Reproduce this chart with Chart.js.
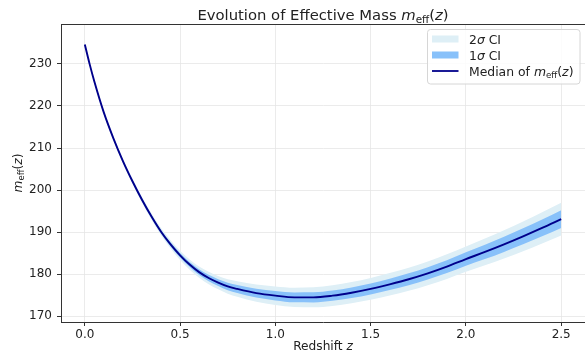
<!DOCTYPE html>
<html>
<head>
<meta charset="utf-8">
<script src="https://cdn.jsdelivr.net/npm/chart.js@4/dist/chart.umd.min.js"></script>
<style>
  html, body { margin: 0; padding: 0; background: #fff; }
  canvas { display: block; }
</style>
</head>
<body>
<canvas id="massChart" width="585" height="351"></canvas>
<script>
// values
const redshift = [0, 0.025, 0.05, 0.1, 0.15, 0.2, 0.25, 0.3, 0.35, 0.4, 0.45, 0.5, 0.55, 0.6, 0.65, 0.7, 0.75, 0.8, 0.9, 1.0,
                  1.1, 1.2, 1.3, 1.4, 1.5, 1.6, 1.7, 1.8, 1.9, 2.0, 2.1, 2.2, 2.3, 2.4, 2.5];
const massMedian = [234.6, 230.0, 225.8, 218.4, 212.3, 206.9, 202.1, 197.7, 193.7, 190.1, 187.1, 184.5, 182.3, 180.5, 179.1, 178.0, 177.1, 176.5, 175.5, 174.9,
                    174.5, 174.5, 174.9, 175.6, 176.5, 177.6, 178.8, 180.2, 181.8, 183.6, 185.3, 187.1, 189.0, 191.0, 193.1];
// half widths of the credible bands
const sigma1 = [0.15, 0.16, 0.18, 0.2, 0.24, 0.27, 0.3, 0.34, 0.38, 0.43, 0.49, 0.55, 0.61, 0.68, 0.75, 0.82, 0.89, 0.95, 1.05, 1.12,
                1.17, 1.2, 1.23, 1.26, 1.3, 1.35, 1.42, 1.48, 1.54, 1.6, 1.7, 1.8, 1.9, 2.0, 2.1];
const sigma2 = [0.35, 0.37, 0.4, 0.45, 0.5, 0.56, 0.62, 0.7, 0.78, 0.86, 0.98, 1.1, 1.22, 1.35, 1.48, 1.6, 1.72, 1.85, 2.05, 2.2,
                2.3, 2.38, 2.45, 2.52, 2.6, 2.68, 2.76, 2.84, 2.92, 3.0, 3.18, 3.36, 3.54, 3.72, 3.9];

const xTicks = [0, 0.5, 1.0, 1.5, 2.0, 2.5];
const xTickLabels = ['0.0', '0.5', '1.0', '1.5', '2.0', '2.5'];
const yTicks = [170, 180, 190, 200, 210, 220, 230];
const yTickLabels = ['170', '180', '190', '200', '210', '220', '230'];

const FONT = "'DejaVu Sans', 'Liberation Sans', sans-serif";
const color2s = '#deeff6';
const color1s = '#88c1fa';
const colorMedian = '#00008b';

function band(sign, widths) {
    return redshift.map((z, i) => ({ x: z, y: massMedian[i] + sign * widths[i] }));
}

// mixed text: n = normal, i = italic, s = subscript (roman, smaller)
function partFont(style, size) {
    if (style === 'i') return 'italic ' + size + 'px ' + FONT;
    if (style === 's') return (size * 0.7).toFixed(1) + 'px ' + FONT;
    return size + 'px ' + FONT;
}
function richWidth(ctx, parts, size) {
    let w = 0;
    parts.forEach(p => { ctx.font = partFont(p[1], size); w += ctx.measureText(p[0]).width; });
    return w;
}
function drawRich(ctx, parts, x, y, size, align) {
    let cx = align === 'center' ? x - richWidth(ctx, parts, size) / 2 : x;
    ctx.textBaseline = 'alphabetic';
    ctx.textAlign = 'left';
    parts.forEach(p => {
        ctx.font = partFont(p[1], size);
        const dy = p[1] === 's' ? size * 0.22 : 0;
        ctx.fillText(p[0], cx, y + dy);
        cx += ctx.measureText(p[0]).width;
    });
}

const mEff = [['m', 'i'], ['eff', 's'], ['(', 'n'], ['z', 'i'], [')', 'n']];

const decorations = {
    id: 'decorations',
    afterDraw(chart) {
        const ctx = chart.ctx;
        const a = chart.chartArea;
        ctx.save();
        // top spine
        ctx.strokeStyle = '#333';
        ctx.lineWidth = 1;
        ctx.beginPath();
        ctx.moveTo(a.left, a.top + 0.5);
        ctx.lineTo(a.right, a.top + 0.5);
        ctx.stroke();

        ctx.fillStyle = '#222';
        const cx = (a.left + a.right) / 2;
        // title
        drawRich(ctx, [['Evolution of Effective Mass ', 'n']].concat(mEff), cx, 19.5, 14.8, 'center');
        // x label
        drawRich(ctx, [['Redshift ', 'n'], ['z', 'i']], cx, 349.5, 12.2, 'center');
        // y label
        ctx.save();
        ctx.translate(21.5, (a.top + a.bottom) / 2);
        ctx.rotate(-Math.PI / 2);
        drawRich(ctx, mEff, 0, 0, 12.2, 'center');
        ctx.restore();

        // legend
        const lx = 427, ly = 29, lw = 152.5, lh = 54.5;
        ctx.fillStyle = 'rgba(255,255,255,0.85)';
        ctx.strokeStyle = '#d6d6d6';
        ctx.lineWidth = 1;
        ctx.beginPath();
        ctx.roundRect(lx + 0.5, ly + 0.5, lw, lh, 3);
        ctx.fill();
        ctx.stroke();

        const rows = [
            { kind: 'patch', color: color2s, parts: [['2', 'n'], ['σ', 'i'], [' CI', 'n']] },
            { kind: 'patch', color: color1s, parts: [['1', 'n'], ['σ', 'i'], [' CI', 'n']] },
            { kind: 'line', color: colorMedian, parts: [['Median of ', 'n']].concat(mEff) }
        ];
        rows.forEach((r, i) => {
            const yc = 39 + i * 16;
            if (r.kind === 'patch') {
                ctx.fillStyle = r.color;
                ctx.fillRect(432, yc - 3.5, 26.5, 7);
            } else {
                ctx.strokeStyle = r.color;
                ctx.lineWidth = 1.8;
                ctx.beginPath();
                ctx.moveTo(432, yc);
                ctx.lineTo(458.5, yc);
                ctx.stroke();
            }
            ctx.fillStyle = '#222';
            drawRich(ctx, r.parts, 469, yc + 4.5, 12.4, 'left');
        });
        ctx.restore();
    }
};

const lineBase = { pointRadius: 0, borderWidth: 0, cubicInterpolationMode: 'monotone' };

new Chart(document.getElementById('massChart').getContext('2d'), {
    type: 'line',
    data: {
        datasets: [
            Object.assign({ label: '2σ upper', data: band(1, sigma2), fill: '+1', backgroundColor: color2s, order: 2 }, lineBase),
            Object.assign({ label: '2σ lower', data: band(-1, sigma2), fill: false, order: 2 }, lineBase),
            Object.assign({ label: '1σ upper', data: band(1, sigma1), fill: '+1', backgroundColor: color1s, order: 1 }, lineBase),
            Object.assign({ label: '1σ lower', data: band(-1, sigma1), fill: false, order: 1 }, lineBase),
            {
                label: 'Median',
                data: redshift.map((z, i) => ({ x: z, y: massMedian[i] })),
                borderColor: colorMedian,
                borderWidth: 1.9,
                pointRadius: 0,
                fill: false,
                cubicInterpolationMode: 'monotone',
                order: 0
            }
        ]
    },
    options: {
        responsive: false,
        animation: false,
        layout: { padding: { left: 0, right: 0, top: 24, bottom: 0 } },
        plugins: { legend: { display: false }, title: { display: false }, tooltip: { enabled: false } },
        scales: {
            x: {
                type: 'linear',
                min: -0.125,
                max: 2.625,
                afterBuildTicks: s => { s.ticks = xTicks.map(v => ({ value: v })); },
                afterFit: s => { s.height = 29; },
                ticks: {
                    autoSkip: false,
                    maxRotation: 0,
                    padding: 2,
                    color: '#222',
                    font: { family: FONT, size: 12 },
                    callback: (v, i) => xTickLabels[i]
                },
                grid: { color: '#e6e6e6', lineWidth: 0.8, tickColor: '#333', tickLength: 4, tickWidth: 1 },
                border: { display: true, color: '#333', width: 1 }
            },
            y: {
                type: 'linear',
                min: 168.64,
                max: 239.48,
                afterBuildTicks: s => { s.ticks = yTicks.map(v => ({ value: v })); },
                afterFit: s => { s.width = 61; },
                ticks: {
                    autoSkip: false,
                    padding: 5,
                    color: '#222',
                    font: { family: FONT, size: 12 },
                    callback: (v, i) => yTickLabels[i]
                },
                grid: { color: '#e6e6e6', lineWidth: 0.8, tickColor: '#333', tickLength: 4, tickWidth: 1 },
                border: { display: true, color: '#333', width: 1 }
            }
        }
    },
    plugins: [decorations]
});
</script>
</body>
</html>
